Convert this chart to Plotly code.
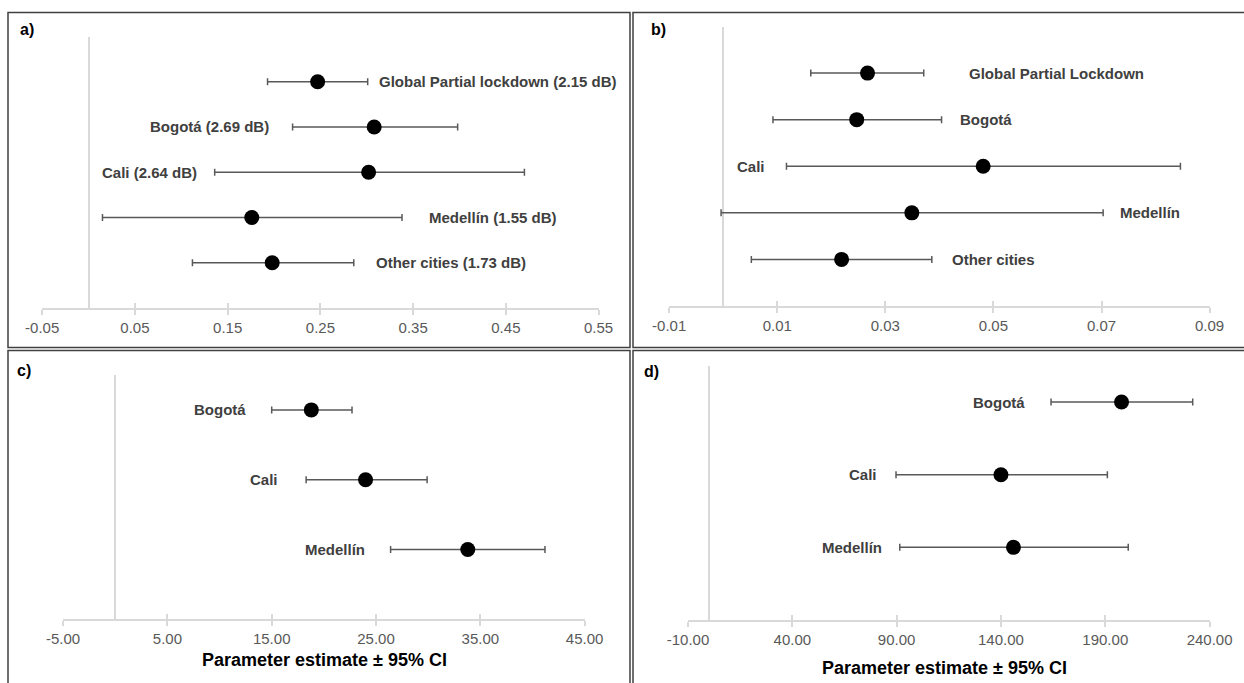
import plotly.graph_objects as go

W, H = 1244, 683

# ---------------- data ----------------
a_labels = ["Global Partial lockdown (2.15 dB)", "Bogotá (2.69 dB)", "Cali (2.64 dB)",
            "Medellín (1.55 dB)", "Other cities (1.73 dB)"]
a_est = [0.247, 0.308, 0.302, 0.176, 0.198]
a_low = [0.193, 0.220, 0.136, 0.015, 0.112]
a_high = [0.301, 0.398, 0.470, 0.338, 0.286]
a_ticks = [-0.05, 0.05, 0.15, 0.25, 0.35, 0.45, 0.55]

b_labels = ["Global Partial Lockdown", "Bogotá", "Cali", "Medellín", "Other cities"]
b_est = [0.0267, 0.0247, 0.0481, 0.0349, 0.0219]
b_low = [0.0162, 0.0092, 0.0117, -0.0004, 0.0052]
b_high = [0.0371, 0.0404, 0.0846, 0.0703, 0.0386]
b_ticks = [-0.01, 0.01, 0.03, 0.05, 0.07, 0.09]

c_labels = ["Bogotá", "Cali", "Medellín"]
c_est = [18.8, 24.0, 33.8]
c_low = [15.0, 18.3, 26.4]
c_high = [22.7, 29.9, 41.2]
c_ticks = [-5, 5, 15, 25, 35, 45]

d_labels = ["Bogotá", "Cali", "Medellín"]
d_est = [197.8, 140.0, 146.0]
d_low = [164.0, 89.7, 91.5]
d_high = [231.9, 191.0, 201.0]
d_ticks = [-10, 40, 90, 140, 190, 240]

axis_title = "Parameter estimate ± 95% CI"

# ---------------- styling / layout config ----------------
FONT = "Liberation Sans, Arial, sans-serif"
LABEL_COLOR = "#404040"
TICK_COLOR = "#595959"
LIGHT = "#d9d9d9"
BORDER = "#404040"


def px(p):
    return p / W


def py(p):
    return 1 - p / H


panels = [
    dict(name="a)", labels=a_labels, est=a_est, low=a_low, high=a_high, ticks=a_ticks,
         xpix=(42.2, 598.6), ypix=(36.5, 308.0), ymax=6,
         sides=["r", "l", "l", "r", "r"], gaps=[9, 22, 16, 25, 20],
         tag=(18, 30), title=None, box=(8, 630, 12.5, 347.5)),
    dict(name="b)", labels=b_labels, est=b_est, low=b_low, high=b_high, ticks=b_ticks,
         xpix=(669.2, 1209.6), ypix=(26.5, 306.0), ymax=6,
         sides=["r", "r", "l", "r", "r"], gaps=[43, 16, 19, 15, 18],
         tag=(649, 30), title=None, box=(633, 1260, 12.5, 347.5)),
    dict(name="c)", labels=c_labels, est=c_est, low=c_low, high=c_high, ticks=c_ticks,
         xpix=(63.1, 584.6), ypix=(375.0, 619.4), ymax=3.5,
         sides=["l", "l", "l"], gaps=[24, 26, 24],
         tag=(15, 370), title=(324, 660), box=(8, 630, 350.5, 700)),
    dict(name="d)", labels=d_labels, est=d_est, low=d_low, high=d_high, ticks=d_ticks,
         xpix=(688.0, 1209.6), ypix=(365.7, 620.0), ymax=3.5,
         sides=["l", "l", "l"], gaps=[24, 17, 16],
         tag=(642, 371), title=(944, 668), box=(633, 1260, 350.5, 700)),
]

fig = go.Figure()
annotations = []
shapes = []
layout = {}

for i, p in enumerate(panels, start=1):
    n = len(p["labels"])
    ys = [n - k for k in range(n)]
    plus = [h - e for h, e in zip(p["high"], p["est"])]
    minus = [e - l for e, l in zip(p["est"], p["low"])]
    xa = "x" if i == 1 else f"x{i}"
    ya = "y" if i == 1 else f"y{i}"
    fig.add_trace(go.Scatter(
        x=p["est"], y=ys, mode="markers", xaxis=xa, yaxis=ya,
        marker=dict(color="black", size=15),
        error_x=dict(type="data", array=plus, arrayminus=minus, symmetric=False,
                     color=TICK_COLOR, thickness=1.5, width=3.5),
        showlegend=False, hoverinfo="x+y", cliponaxis=False,
    ))
    ticks = p["ticks"]
    ttext = [f"{t:.2f}" for t in ticks]
    xdom = [px(p["xpix"][0]), px(p["xpix"][1])]
    ydom = [py(p["ypix"][1]), py(p["ypix"][0])]
    layout[f"xaxis{i}"] = dict(
        domain=xdom, range=[ticks[0], ticks[-1]], anchor=ya,
        tickvals=ticks, ticktext=ttext, showgrid=False, automargin=False,
        zeroline=True, zerolinecolor=LIGHT, zerolinewidth=1.5,
        showline=True, linecolor=LIGHT, linewidth=2,
        ticks="outside", ticklen=5, tickcolor=LIGHT, tickwidth=1.5,
        tickfont=dict(family=FONT, size=15, color=TICK_COLOR),
        fixedrange=True,
    )
    layout[f"yaxis{i}"] = dict(
        domain=ydom, range=[0, p["ymax"]], anchor=xa, automargin=False,
        showgrid=False, zeroline=False, showline=False, showticklabels=False,
        ticks="", fixedrange=True,
    )
    # overlay axis for the upward half of the crossing tick marks
    j = i + 4
    layout[f"xaxis{j}"] = dict(
        domain=xdom, range=[ticks[0], ticks[-1]], anchor=ya, overlaying=xa,
        tickvals=ticks, showticklabels=False, showgrid=False, zeroline=False,
        automargin=False,
        showline=False, ticks="inside", ticklen=5, tickcolor=LIGHT, tickwidth=1.5,
        fixedrange=True,
    )
    fig.add_trace(go.Scatter(x=[ticks[0]], y=[0], xaxis=f"x{j}", yaxis=ya,
                             mode="markers", marker=dict(opacity=0),
                             showlegend=False, hoverinfo="skip"))

    # data labels
    for k, lab in enumerate(p["labels"]):
        right = p["sides"][k] == "r"
        annotations.append(dict(
            x=p["high"][k] if right else p["low"][k], y=ys[k], xref=xa, yref=ya,
            text=f"<b>{lab}</b>", showarrow=False, xanchor="left" if right else "right",
            yanchor="middle", xshift=p["gaps"][k] if right else -p["gaps"][k],
            font=dict(family=FONT, size=15, color=LABEL_COLOR),
        ))
    # panel tag
    annotations.append(dict(
        x=px(p["tag"][0]), y=py(p["tag"][1]), xref="paper", yref="paper",
        text=f"<b>{p['name']}</b>", showarrow=False, xanchor="left", yanchor="middle",
        font=dict(family=FONT, size=16, color="black"),
    ))
    if p["title"]:
        annotations.append(dict(
            x=px(p["title"][0]), y=py(p["title"][1]), xref="paper", yref="paper",
            text=f"<b>{axis_title}</b>", showarrow=False, xanchor="center",
            yanchor="middle", font=dict(family=FONT, size=18, color="black"),
        ))
    bx0, bx1, by0, by1 = p["box"]
    shapes.append(dict(type="rect", xref="paper", yref="paper",
                       x0=px(bx0), x1=px(bx1), y0=py(by1), y1=py(by0),
                       line=dict(color=BORDER, width=1.5), layer="above"))

fig.update_layout(
    width=W, height=H,
    margin=dict(l=0, r=0, t=0, b=0, pad=0, autoexpand=False),
    showlegend=False,
    paper_bgcolor="white", plot_bgcolor="white",
    annotations=annotations, shapes=shapes, **layout,
)

fig.write_html("out.html", config={"displayModeBar": False},
               post_script="document.body.style.margin='0';")
